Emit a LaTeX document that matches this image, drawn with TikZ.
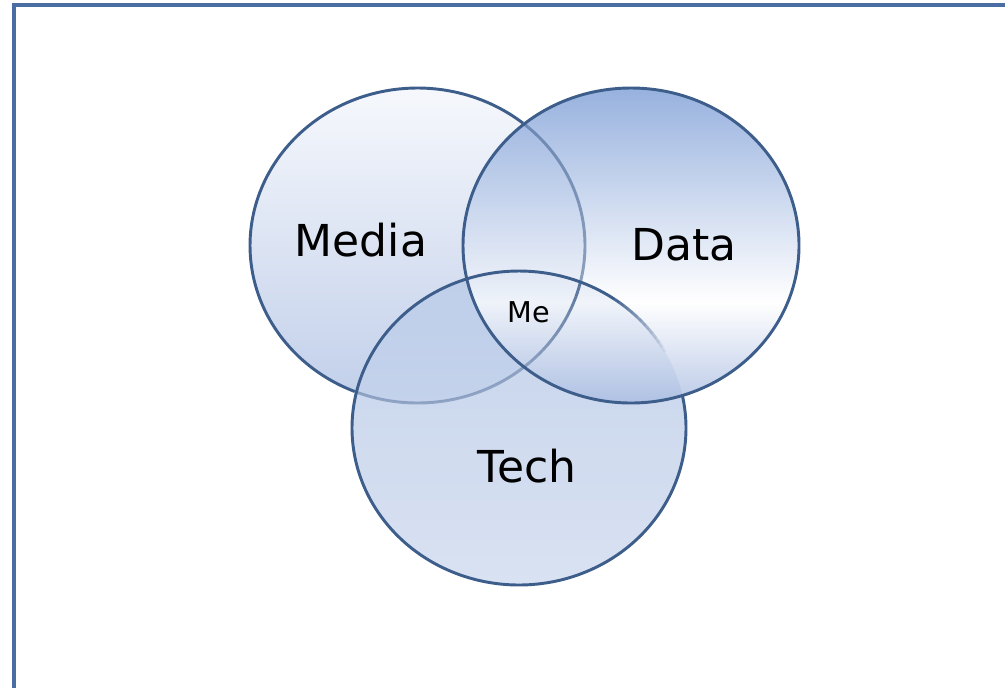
\documentclass[tikz,border=0pt]{standalone}
\usepackage{fontspec}
\setmainfont{DejaVu Sans}
\definecolor{edge}{HTML}{3D5D8B}
\definecolor{framec}{HTML}{4A6EA3}
\definecolor{mediaTop}{HTML}{F6F8FC}
\definecolor{mediaBot}{HTML}{C1CFEA}
\definecolor{dataTop}{HTML}{7598D4}
\definecolor{dataBot}{HTML}{A5B9E0}
\definecolor{techTop}{HTML}{BBCCE9}
\definecolor{techBot}{HTML}{D3DDF0}
\pgfdeclareverticalshading{datashade}{100bp}{color(0bp)=(dataBot); color(25bp)=(dataBot); color(41bp)=(white); color(75bp)=(dataTop); color(100bp)=(dataTop)}
\begin{document}
\begin{tikzpicture}[x=0.75pt,y=-0.75pt,
  ring/.style={draw=edge,line width=2.2pt},
  label/.style={anchor=base,font=\fontsize{33}{36}\selectfont,text=black},
  small/.style={anchor=base,font=\fontsize{21.5}{24}\selectfont,text=black}]
\useasboundingbox (0,0) rectangle (1005,687);
\fill[white] (0,0) rectangle (1005,687);
\begin{scope}
\clip (0,0) rectangle (1005,687);
\draw[draw=framec,line width=3.4pt] (14,5) rectangle (1100,800);
\end{scope}
% fills
\shade[top color=mediaTop,bottom color=mediaBot] (417.5,245.5) ellipse [x radius=167.5,y radius=157.5];
\shade[top color=techTop,bottom color=techBot,fill opacity=0.85] (519,428) ellipse [x radius=167,y radius=157];
\shade[shading=datashade,fill opacity=0.75] (631,245.5) ellipse [x radius=168,y radius=157.5];
% Media outline
\draw[ring] plot[domain=51:248,samples=120] ({417.5+167.5*cos(\x)},{245.5-157.5*sin(\x)});
\draw[ring,draw opacity=0.55] plot[domain=-13:51,samples=50] ({417.5+167.5*cos(\x)},{245.5-157.5*sin(\x)});
\draw[ring,draw opacity=0.42] plot[domain=-112:-51,samples=50] ({417.5+167.5*cos(\x)},{245.5-157.5*sin(\x)});
\foreach \a in {-51,-49,...,-15}{
  \pgfmathsetmacro\op{0.42+0.45*(\a+51)/38}
  \draw[ring,draw opacity=\op] plot[domain=\a:\a+2,samples=3] ({417.5+167.5*cos(\x)},{245.5-157.5*sin(\x)});
}
% Tech outline
\draw[ring] plot[domain=55:372,samples=200] ({519+167*cos(\x)},{428-157*sin(\x)});
\foreach \a in {27,29,...,53}{
  \pgfmathsetmacro\op{(\a-27)/28}
  \draw[ring,draw opacity=\op] plot[domain=\a:\a+2,samples=3] ({519+167*cos(\x)},{428-157*sin(\x)});
}
% Data outline
\draw[ring] (631,245.5) ellipse [x radius=168,y radius=157.5];
\node[label] (media) at (361,256) {Media};
\node[label] (data) at (684,260) {Data};
\node[label] (tech) at (527,482) {Tech};
\node[small] (me) at (529,322) {Me};
\end{tikzpicture}
\end{document}
